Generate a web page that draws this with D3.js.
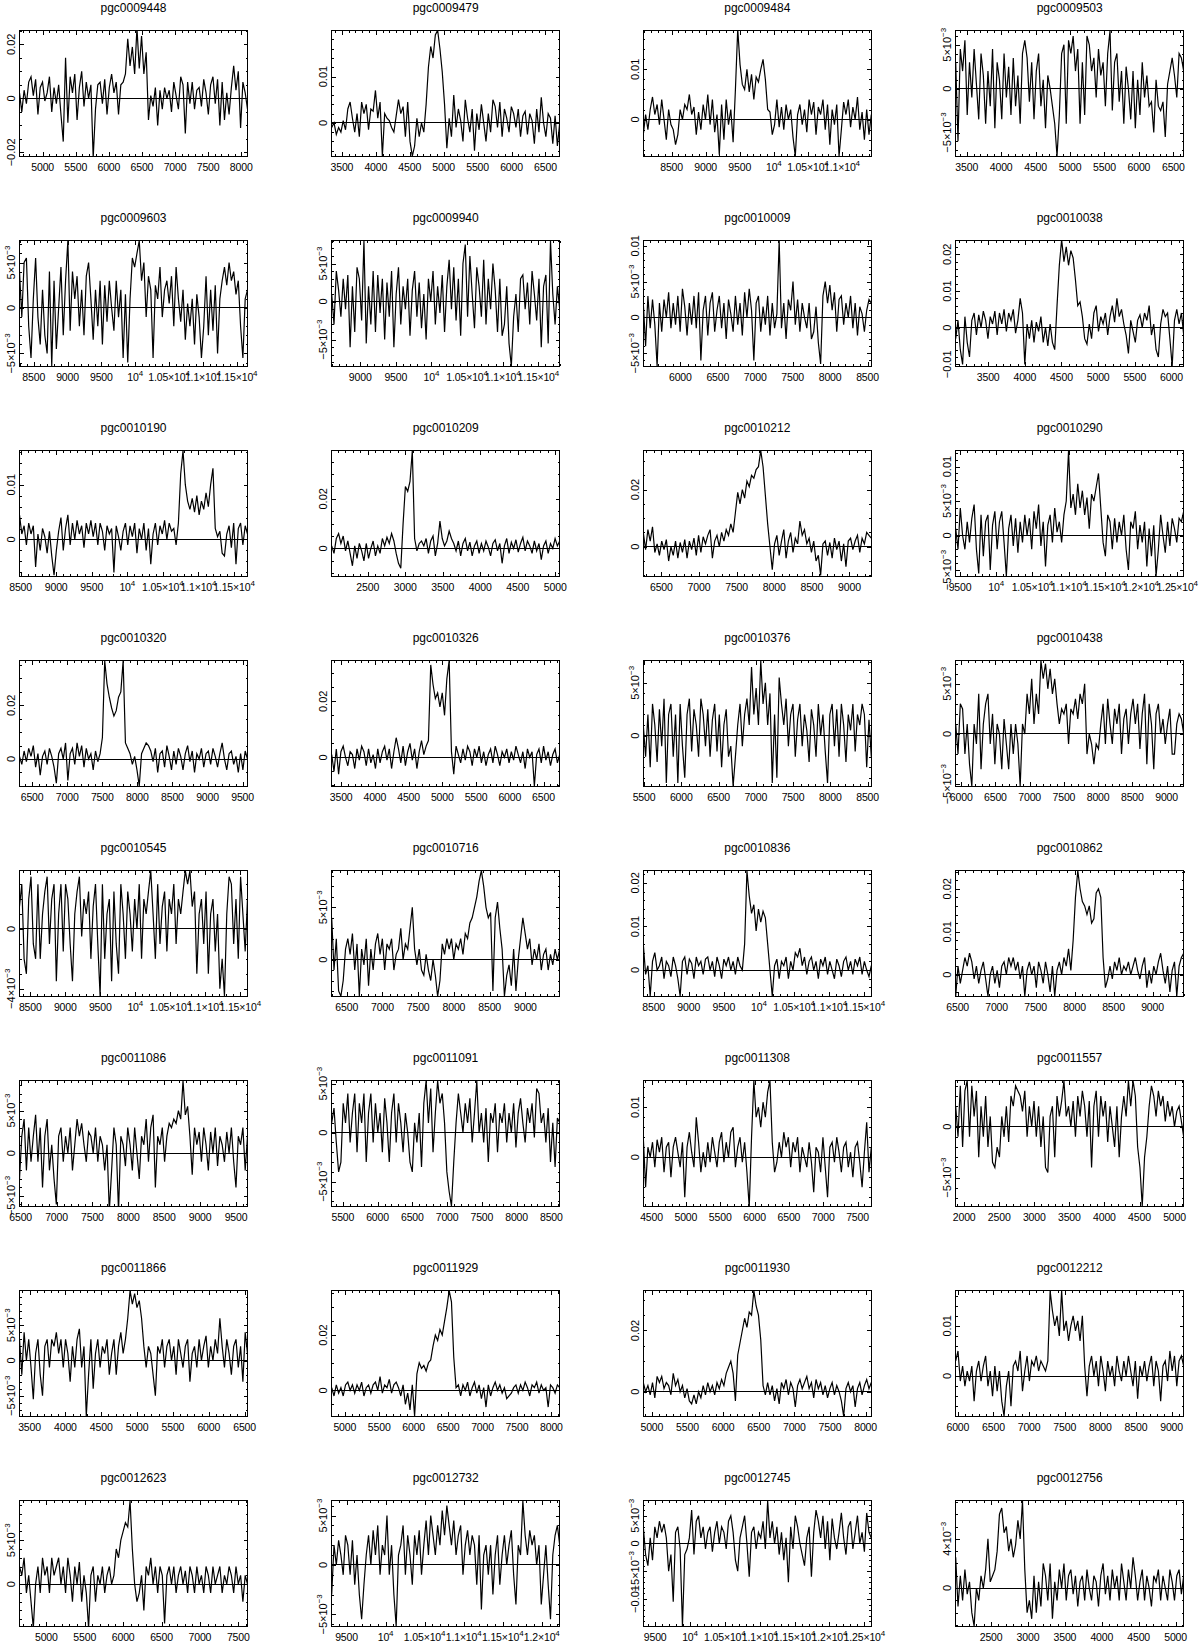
<!DOCTYPE html>
<html>
<head>
<meta charset="utf-8">
<script src="https://cdn.jsdelivr.net/npm/d3@7"></script>
<style>
  body { margin: 0; background: #fff; }
  text { font-family: "Liberation Sans", Arial, sans-serif; fill: #000; }
</style>
</head>
<body>
<svg id="chart"></svg>
<script>
// galaxy names, one panel each (4 columns x 8 rows)
const names = [
  "pgc0009448", "pgc0009479", "pgc0009484", "pgc0009503",
  "pgc0009603", "pgc0009940", "pgc0010009", "pgc0010038",
  "pgc0010190", "pgc0010209", "pgc0010212", "pgc0010290",
  "pgc0010320", "pgc0010326", "pgc0010376", "pgc0010438",
  "pgc0010545", "pgc0010716", "pgc0010836", "pgc0010862",
  "pgc0011086", "pgc0011091", "pgc0011308", "pgc0011557",
  "pgc0011866", "pgc0011929", "pgc0011930", "pgc0012212",
  "pgc0012623", "pgc0012732", "pgc0012745", "pgc0012756"
];

// velocity range covered by each spectrum (km/s)
const velRanges = [
  [4650, 8095], [3350, 6710], [8085, 11430], [3340, 6650],
  [8290, 11660], [8600, 11800], [5505, 8550], [3057, 6167],
  [8485, 11690], [2020, 5060], [6260, 9290], [9440, 12590],
  [6320, 9570], [3360, 6740], [5490, 8550], [5920, 9250],
  [8346, 11604], [6290, 9480], [8353, 11600], [6475, 9400],
  [6484, 9660], [5340, 8620], [4380, 7700], [1880, 5130],
  [3360, 6540], [4810, 8120], [4880, 8080], [5970, 9170],
  [4650, 7620], [9310, 12230], [9330, 12600], [2020, 5110]
];

// flux axis range of each panel (Jy)
const fluxRanges = [
  [-0.0214, 0.025], [-0.0072, 0.0199], [-0.0073, 0.0177], [-0.0077, 0.0066],
  [-0.0064, 0.0074], [-0.0085, 0.008], [-0.0068, 0.0107], [-0.0105, 0.0237],
  [-0.0067, 0.0162], [-0.0112, 0.0394], [-0.0103, 0.0336], [-0.0059, 0.0123],
  [-0.0101, 0.0366], [-0.0103, 0.0345], [-0.0048, 0.0071], [-0.0052, 0.0073],
  [-0.0045, 0.0039], [-0.0035, 0.0085], [-0.006, 0.0228], [-0.005, 0.0242],
  [-0.0062, 0.0085], [-0.0075, 0.0053], [-0.0098, 0.0153], [-0.0078, 0.0045],
  [-0.0079, 0.0099], [-0.0093, 0.036], [-0.008, 0.033], [-0.008, 0.017],
  [-0.0048, 0.0095], [-0.0062, 0.0065], [-0.0149, 0.0077], [-0.0031, 0.0071]
];

// labelled flux tick interval of each panel
const fluxSteps = [
  0.02, 0.01, 0.01, 0.005,
  0.005, 0.005, 0.005, 0.01,
  0.01, 0.02, 0.02, 0.005,
  0.02, 0.02, 0.005, 0.005,
  0.004, 0.005, 0.01, 0.01,
  0.005, 0.005, 0.01, 0.005,
  0.005, 0.02, 0.02, 0.01,
  0.005, 0.005, 0.005, 0.004
];

const velStep = 500;

// flux density per channel, in units of 1e-4 Jy
const spectra = [
  [20,-50,30,-20,60,80,10,70,-60,40,60,-10,20,80,-50,40,-20,50,-60,-160,150,-90,80,20,90,-80,40,100,-30,60,0,50,-220,-40,50,60,-20,70,-60,40,90,20,60,-60,50,60,90,220,120,190,90,260,110,230,90,170,-80,10,-30,40,-100,30,-40,40,0,30,-50,60,10,-40,80,50,-130,60,-20,60,-40,30,40,-30,70,20,-60,50,80,-20,70,-100,60,-80,20,-60,40,120,30,100,-110,60,20,-40],
  [-10,0,-25,-10,-20,5,-15,30,45,10,-20,20,-30,45,20,40,-15,30,25,70,10,45,-72,20,10,5,-10,-20,15,50,20,35,-30,45,-40,-72,-50,10,-30,0,-20,40,120,165,140,190,200,160,110,40,-55,10,-30,60,-10,30,5,-40,50,10,-20,30,-60,20,-15,40,0,-40,20,-20,50,35,-10,45,-30,30,10,-20,35,20,-10,30,-30,15,25,-25,20,5,-45,30,-20,55,0,-30,20,10,-45,15,-50,0],
  [-30,10,-20,20,45,10,30,-10,40,0,-40,20,-10,-20,-50,-30,20,0,30,20,50,10,25,-30,15,-20,30,0,50,-10,40,-25,10,-70,30,-40,40,-10,20,-45,60,180,110,70,60,100,55,90,40,85,75,100,120,80,20,15,-30,-10,40,-15,25,-20,30,0,20,-35,-73,10,30,-10,20,-25,40,10,35,-30,25,10,40,-20,30,-50,20,-10,30,-73,-20,35,10,40,-15,25,0,45,-20,15,-40,20,-30,10],
  [30,-60,45,20,55,-30,30,-10,45,5,-35,40,15,-40,20,-20,45,-45,30,10,-35,40,-10,25,-30,35,-20,15,-40,40,55,35,-15,30,-35,20,40,-20,10,-45,15,0,-20,-40,-77,-30,40,50,-40,55,40,60,20,45,-40,30,-30,60,50,20,35,-10,45,15,30,-20,40,66,-25,30,40,-15,20,-40,25,0,-35,20,-45,10,-30,30,-10,15,-20,-15,-50,10,-20,-25,-15,-55,5,20,35,15,-10,40,35,20],
  [40,-10,50,55,-20,-55,10,55,-10,-40,20,-30,-50,40,-64,30,-45,0,45,-30,30,74,-25,40,10,35,-20,20,-30,35,50,10,-35,20,-20,30,-40,25,-15,30,0,-25,30,-10,20,-55,15,-60,10,55,45,60,74,30,50,-10,35,20,-55,25,10,45,-10,20,30,5,35,-20,45,10,-15,20,-35,5,-20,10,-40,15,-10,-55,-20,35,-30,20,-25,25,-50,10,30,45,25,50,30,40,15,30,-20,-55,10,20],
  [10,-30,40,15,-20,30,-10,35,-60,20,-40,45,30,-25,80,-55,20,-30,40,-40,35,-15,30,-50,25,-20,40,-60,10,45,-30,20,-10,30,-45,15,40,-20,25,-35,10,-50,30,0,40,-30,20,-15,35,-40,20,55,-10,45,-25,30,-45,50,75,-20,60,10,-35,45,20,-20,55,-30,30,-10,50,15,-40,30,-45,-30,20,-55,-85,-20,10,-40,30,35,-10,25,-30,40,10,-25,30,-60,20,35,-55,80,10,-30,20,-10],
  [20,-40,30,-15,25,-10,-68,20,-20,25,0,35,-15,20,-10,30,-20,40,15,-25,20,-10,30,-15,35,-60,10,30,-25,20,35,-20,10,30,-15,20,-30,25,5,-20,30,-10,20,-25,35,0,40,10,-60,20,30,-20,15,-10,30,-25,20,-15,5,107,-15,20,-30,25,10,50,-10,25,-20,20,0,-15,20,-30,-20,15,-35,-65,30,50,20,45,10,35,-20,25,30,-10,20,0,30,-15,20,-25,15,5,-20,10,25,20],
  [-30,20,-60,-100,30,-40,-80,20,40,-20,35,0,45,20,-30,30,10,45,-20,40,10,50,-10,40,20,50,-15,20,80,40,-100,10,-30,20,-40,15,-10,30,-40,0,-50,10,-40,-60,60,170,240,180,220,170,210,190,130,60,70,30,-30,-45,10,-30,40,60,-10,30,10,40,-20,30,60,15,80,30,50,10,-20,-70,20,-10,-40,20,35,0,40,20,60,-20,10,-60,-80,10,50,30,40,-30,-105,20,50,10,40,-20],
  [45,10,25,-10,30,10,25,-50,10,-20,20,5,-25,15,-30,-65,-20,15,40,-20,20,45,-10,30,0,35,10,25,-15,30,10,35,5,30,-10,30,15,-20,25,10,20,-60,25,5,-20,15,30,-10,25,5,30,-25,20,0,30,-20,20,-45,10,30,-10,25,10,35,0,30,15,20,-10,30,120,162,100,70,55,75,50,80,45,70,55,85,60,100,130,20,5,15,-25,-30,10,25,-15,30,-45,20,30,-10,25,10],
  [10,-20,40,60,20,50,-10,30,-20,-70,10,-40,20,-10,-50,20,-40,0,30,-30,10,-20,40,10,45,20,60,30,-20,-60,-80,100,250,230,270,394,40,-10,20,30,10,40,-20,30,50,-30,20,110,40,10,30,70,40,20,-10,30,-30,20,40,-10,25,-30,10,30,-20,20,-10,30,5,-30,20,35,-10,20,-60,10,40,-20,25,0,35,-15,20,45,-10,30,10,-20,30,-10,20,-45,10,30,-20,20,0,40,10,30],
  [50,-10,60,20,70,-20,10,-30,20,-10,25,-50,0,-30,20,-40,15,-20,25,-40,20,-10,30,-30,40,-20,35,10,40,60,-40,20,40,0,50,20,60,40,80,50,120,190,150,200,170,230,210,250,240,270,280,336,280,180,80,0,-80,10,40,-30,20,60,-40,20,50,-20,30,10,90,40,60,10,30,-20,20,-50,-30,-100,10,20,-30,15,-40,30,-10,20,-50,10,-70,20,30,-10,20,40,-20,30,10,50,40,30],
  [10,-20,40,0,-20,20,-10,25,45,-20,-55,30,-30,20,30,-50,15,35,-20,20,35,-10,-59,10,30,-15,25,-25,20,-10,30,0,25,-20,35,10,45,-15,20,-45,15,30,-10,40,5,20,-10,30,50,123,40,60,30,75,40,65,30,55,10,60,50,70,90,40,-10,-30,30,20,-20,25,-10,20,0,30,-20,-50,20,10,35,-20,15,-10,20,-45,10,-30,15,-59,-20,30,0,-25,20,-15,25,10,-10,25,20,35],
  [10,-20,30,-10,40,10,50,-30,20,-60,10,30,-20,40,10,-30,-90,20,40,0,60,-80,20,40,-20,60,10,50,-30,40,0,20,-40,30,-10,20,80,366,280,230,190,160,180,230,250,366,60,40,20,-20,10,-40,-100,20,40,60,50,30,-10,40,-50,20,30,-30,50,10,-40,30,-20,40,10,-40,20,50,-10,30,-50,20,0,40,-30,20,30,-20,40,10,-30,20,60,0,-40,20,30,-20,10,-50,20,-40,30,0],
  [10,-50,30,-60,20,40,0,-30,20,10,-40,30,-10,40,20,-30,30,-20,10,-40,30,-20,20,40,-10,30,-40,20,70,30,-20,40,-30,20,50,-10,30,-40,20,60,10,40,60,330,260,210,230,180,230,150,280,345,20,-60,40,10,-20,30,-10,40,20,-30,30,0,40,-20,20,-30,10,30,-20,40,10,-30,20,0,30,-20,20,-10,40,10,-20,20,-40,30,0,20,-103,10,30,-20,40,-10,20,-30,10,30,-20,10],
  [10,-20,20,-30,30,10,-25,25,-10,35,-45,20,30,-20,20,-45,30,-10,-40,20,35,-15,25,10,-20,35,20,-10,25,-20,15,30,-15,20,-30,10,25,-20,-10,-48,-20,10,30,-10,20,35,10,65,20,45,10,71,30,50,10,40,-45,20,-40,55,30,10,35,-10,20,30,-20,15,30,-10,20,5,-25,25,10,-20,30,0,20,-15,-45,20,30,-10,25,-20,30,10,-25,20,5,30,-15,20,10,30,20,-30,15,-20],
  [10,-20,30,25,-20,10,-30,-52,10,-10,40,-35,10,30,40,-10,20,-30,10,0,-35,15,-10,-35,10,-20,10,-10,-52,10,0,40,20,55,10,40,20,73,55,70,45,65,40,55,30,10,25,20,30,-10,25,20,35,15,40,30,50,-20,0,-10,-30,-10,-15,10,30,-10,35,10,-10,25,10,30,-20,15,25,-10,20,35,10,30,-15,20,40,-30,30,10,-35,20,30,0,15,-10,10,25,-20,-20,10,20,15,0],
  [15,30,-20,-30,20,35,-10,-20,30,-20,10,25,35,-10,20,30,-35,10,30,-15,30,20,-10,-35,10,25,35,-5,20,10,25,-20,15,30,-10,-45,30,-20,10,20,-35,25,-10,-30,30,10,-20,25,10,-15,20,0,30,-20,20,10,25,39,10,-20,30,-10,15,25,-15,20,10,30,-10,20,10,25,39,30,39,15,25,-30,10,20,-10,25,-30,10,20,-15,10,-40,-20,-45,10,35,30,-10,20,-20,35,10,-15,20],
  [40,-10,20,-30,-35,-20,10,20,5,25,-10,15,-35,10,-5,20,-25,10,-10,15,25,5,20,-10,15,10,20,-10,5,10,30,0,15,10,30,50,10,-5,10,-10,-15,5,-10,-20,0,-15,-35,-20,15,5,20,10,20,0,15,10,20,5,25,20,35,40,50,60,75,85,70,50,40,45,-30,40,55,30,10,-35,-15,-5,-25,10,-30,0,20,40,25,10,20,-5,10,0,15,-10,5,10,-10,5,-5,10,0,10],
  [60,-10,10,-60,20,40,0,10,30,-20,20,10,-15,30,10,-20,-60,20,30,-10,25,15,-20,30,10,20,-10,25,30,0,20,-15,30,10,-20,25,10,30,0,20,-10,30,10,0,60,228,170,130,150,90,140,110,135,120,60,0,-60,10,25,-20,20,10,30,-20,20,0,40,30,50,10,30,-10,20,30,0,20,-20,25,10,30,-10,20,0,-20,25,10,-15,20,30,0,20,-10,25,10,30,-10,20,0,-15,10],
  [-50,20,-20,10,40,20,50,30,-10,20,-20,10,30,-10,-50,0,20,-20,10,-30,20,30,0,40,20,40,10,30,-10,20,-50,10,30,0,20,-30,30,10,-20,30,0,-40,20,-50,10,30,0,40,20,60,10,80,180,242,200,170,160,140,160,120,130,190,200,180,40,-30,-10,20,-10,30,10,40,0,20,10,30,0,20,40,10,-10,20,40,-30,10,-20,20,0,30,50,10,-20,20,-40,10,30,-50,20,40,50],
  [-30,20,40,-20,30,-10,20,45,-10,30,-40,20,40,-20,10,-30,-60,20,30,-10,20,0,30,-20,10,40,20,35,10,-10,25,20,0,30,-10,20,10,-20,10,-68,-20,30,10,-68,20,10,-15,30,10,-20,30,0,-30,20,10,40,-10,30,45,-40,20,10,30,-10,20,35,30,40,35,50,40,85,45,55,20,-25,30,10,25,-10,30,10,-20,25,0,30,-15,20,10,-10,25,0,30,-10,-40,20,10,30,-20,20],
  [10,25,-10,-40,-30,30,10,40,-10,20,40,-20,30,10,40,-30,20,40,-10,30,0,20,-20,35,10,-30,20,40,-10,30,10,-20,20,0,-30,-40,10,-10,20,-35,30,53,10,45,-20,20,53,30,40,10,-40,-60,-75,-30,10,40,20,0,30,10,35,-10,20,53,0,20,-10,25,-30,20,10,30,-20,20,10,30,-10,20,0,30,-15,20,35,10,-10,25,10,30,-5,45,40,10,20,-10,25,-30,10,-35,15,10],
  [40,-60,20,0,30,-20,35,10,40,-30,20,30,-40,20,40,10,-20,30,-80,20,50,10,-20,80,30,-30,10,-20,30,-10,40,10,-20,30,50,-10,30,0,50,60,-20,20,40,-10,30,-30,-100,40,153,80,100,60,110,80,130,153,30,-30,-10,30,0,50,20,40,-20,30,10,40,-30,20,0,-20,30,-10,-70,20,10,-30,40,-20,-80,20,30,-10,40,10,-30,20,30,-20,10,-40,20,30,-10,-60,10,70,-30,20],
  [20,-10,40,-20,35,45,-10,40,10,35,-30,20,-10,30,-20,10,-35,-40,-20,-30,10,-10,20,-15,30,20,40,35,30,15,35,-10,20,0,25,-10,20,-20,10,-40,-45,10,20,-30,30,10,25,45,10,20,0,25,-10,30,10,35,20,-10,25,-40,20,35,-10,30,10,25,-15,20,0,-20,20,-30,10,30,10,45,20,45,30,-20,-40,-78,-30,-10,20,40,30,10,35,20,30,5,25,10,20,0,15,20,5,-10],
  [30,-20,40,0,30,-10,-55,10,30,-20,-50,20,30,-10,30,20,40,10,30,-10,30,10,-30,20,-10,30,45,-10,20,-79,-20,30,-40,10,30,-10,20,10,30,-20,10,30,-20,20,40,10,30,60,99,80,95,75,85,60,20,-10,20,10,-20,-50,20,10,30,-10,20,30,0,20,-20,30,10,-10,20,30,-30,10,20,-10,30,0,20,35,-10,20,0,30,10,60,20,-10,30,10,-20,20,30,-10,20,-30,40,10],
  [10,-20,20,-10,10,-20,20,30,0,20,-10,20,0,30,-20,10,20,-10,20,30,0,50,-10,20,10,40,-10,20,30,10,-20,20,-50,-10,-70,20,-93,60,100,80,90,70,100,110,160,200,180,220,200,250,300,360,320,120,10,20,-20,20,0,30,-20,10,30,-10,20,-30,10,-60,20,-20,10,30,0,20,-10,10,-30,-20,-10,10,20,-10,20,0,30,10,-20,20,10,30,-10,20,0,10,-60,20,10,-10,20,10],
  [30,0,20,-10,30,-20,50,30,50,10,30,20,-10,60,20,40,0,20,-20,10,-30,-40,-10,-40,0,-20,20,-10,30,0,20,-10,30,10,40,20,60,80,100,60,-30,120,160,200,240,210,260,250,330,280,250,170,20,-10,30,-10,20,-30,10,-40,30,10,40,-10,30,10,-50,20,40,10,30,50,10,30,-20,40,10,30,-10,20,-20,10,30,-10,20,0,-30,-80,10,30,0,20,-50,10,30,-10,20,40,10,30],
  [30,50,-10,20,-20,10,-10,20,-50,10,30,-10,20,40,-20,10,-40,20,-30,10,-50,-80,-20,10,-60,20,30,10,50,-30,10,40,-10,30,20,40,10,30,20,10,30,170,130,100,120,80,170,90,110,70,100,120,90,110,70,120,20,-40,20,40,0,30,-20,40,10,-30,30,0,20,-20,40,10,-10,30,0,40,10,-20,30,-45,20,0,30,-10,20,40,-20,30,10,-50,20,30,-10,50,10,40,-20,30,40,20],
  [20,10,30,-10,10,-20,-50,0,20,-10,30,10,20,-10,30,10,20,30,0,20,-10,30,10,-20,20,0,25,-20,10,-10,-50,10,20,-20,10,0,20,-10,10,20,0,10,40,30,50,60,70,65,95,40,0,-20,-10,10,-30,20,10,30,0,20,-10,20,10,-45,10,20,0,20,-10,10,20,0,15,-10,20,10,-10,20,0,10,-10,20,10,-10,20,0,10,20,-10,10,0,20,10,-10,20,0,10,-20,10,0],
  [-30,20,0,25,10,-10,30,20,-10,25,-20,10,-30,-55,-20,10,30,0,35,10,40,-10,20,10,50,-10,20,-30,-62,10,20,40,-10,30,10,-20,30,10,35,-10,20,45,10,50,30,10,40,20,55,30,60,40,20,45,10,30,40,-10,20,35,10,30,20,-20,30,-45,10,20,-10,20,-30,10,30,-20,10,30,0,20,35,-10,-40,20,10,65,30,10,35,20,30,0,20,-40,-10,20,-20,-55,10,30,40,20],
  [30,-20,-40,10,-30,30,10,40,20,35,10,-50,-20,-105,20,30,-10,-149,-20,-10,10,60,-20,40,50,10,30,-10,20,30,-15,20,40,0,30,20,-10,40,50,20,-30,-50,10,30,50,0,-60,20,30,-10,20,10,40,-10,77,10,40,0,30,-20,20,-30,10,-70,30,-10,50,30,0,-20,-40,10,30,-60,20,60,40,10,50,-10,40,-30,45,10,-10,20,55,10,-20,30,40,-10,20,50,0,20,-15,55,20,10],
  [25,-15,10,-10,15,-5,5,-20,-31,0,-10,10,0,15,40,5,10,15,30,60,65,45,50,30,40,25,35,55,40,71,15,-20,-10,-25,10,-20,5,-15,20,10,-10,20,-25,5,-10,15,0,20,-10,10,15,-5,10,-15,5,10,-10,15,0,-10,10,5,-15,10,20,-5,10,-10,15,0,10,-10,20,5,-10,15,0,25,10,-10,5,15,-10,10,0,-15,10,5,15,-10,10,0,-10,15,5,-10,10,15,-5,10]
];

const svgWidth = 1200;
const svgHeight = 1647;
const colLeft = [19.5, 331.7, 643.3, 955.7];
const rowTop = 30.7, rowGap = 210;
const width = 228, height = 125.5;

const svg = d3.select("#chart").attr("width", svgWidth).attr("height", svgHeight);
const defs = svg.append("defs");

// PGPLOT-like number labels: 5×10^-3, 1.05×10^4, 0.02 ...
const fmt = (v) => {
  const minus = "\u2212";
  if (v === 0) return { base: "0" };
  const a = Math.abs(v);
  if (a >= 9999) {
    const m = +(v / 1e4).toPrecision(4);
    return { base: m === 1 ? "10" : `${m}\u00d710`, exp: "4" };
  }
  if (a < 0.0099) {
    const m = Math.round(v * 1000);
    return { base: (m < 0 ? minus : "") + Math.abs(m) + "\u00d710", exp: minus + "3" };
  }
  return { base: (v < 0 ? minus : "") + String(+a.toPrecision(4)) };
};

const writeLabel = (textSel, v) => {
  const f = fmt(v);
  textSel.append("tspan").text(f.base);
  if (f.exp) textSel.append("tspan").attr("dy", -5).attr("font-size", "8px").text(f.exp);
};

const ticksFor = (lo, hi, step) => {
  const out = [];
  for (let k = Math.ceil(lo / step - 1e-9); k * step <= hi + 1e-12; k++) out.push(+(k * step).toPrecision(8));
  return out;
};

const subdivisions = (step) => {
  const mant = Math.round(step / Math.pow(10, Math.floor(Math.log10(step) + 1e-9)));
  return mant === 2 || mant === 4 ? 4 : 5;
};

names.forEach((name, i) => {
  const [v0, v1] = velRanges[i];
  const [f0, f1] = fluxRanges[i];
  const g = svg.append("g")
    .attr("transform", `translate(${colLeft[i % 4]},${rowTop + rowGap * Math.floor(i / 4)})`);

  const xScale = d3.scaleLinear().domain([v0, v1]).range([0, width]);
  const yScale = d3.scaleLinear().domain([f0, f1]).range([height, 0]);

  // tick positions
  const xMajor = ticksFor(v0, v1, velStep);
  const xMinor = ticksFor(v0, v1, velStep / 5).filter((v) => Math.abs(v / velStep - Math.round(v / velStep)) > 1e-6);
  const ys = fluxSteps[i];
  const yMajor = ticksFor(f0, f1, ys);
  const nsub = subdivisions(ys);
  const yMinor = ticksFor(f0, f1, ys / nsub).filter((v) => Math.abs(v / ys - Math.round(v / ys)) > 1e-6);

  // inward ticks on all four sides
  const sides = [
    [d3.axisBottom(xScale), `translate(0,${height})`, xMajor, xMinor],
    [d3.axisTop(xScale), "translate(0,0)", xMajor, xMinor],
    [d3.axisLeft(yScale), "translate(0,0)", yMajor, yMinor],
    [d3.axisRight(yScale), `translate(${width},0)`, yMajor, yMinor]
  ];
  sides.forEach(([axis, tr, major, minor]) => {
    [[major, -4], [minor, -2]].forEach(([vals, len]) => {
      const a = g.append("g")
        .attr("transform", tr)
        .attr("shape-rendering", "crispEdges")
        .call(axis.tickValues(vals).tickSize(len).tickSizeOuter(0).tickFormat(""));
      a.select(".domain").remove();
      a.selectAll(".tick text").remove();
    });
  });

  // frame
  g.append("rect")
    .attr("width", width)
    .attr("height", height)
    .attr("fill", "none")
    .attr("stroke", "#000")
    .attr("stroke-width", 1)
    .attr("shape-rendering", "crispEdges");

  // zero line
  g.append("line")
    .attr("x1", 0).attr("x2", width)
    .attr("y1", yScale(0)).attr("y2", yScale(0))
    .attr("stroke", "#000")
    .attr("stroke-width", 1)
    .attr("shape-rendering", "crispEdges");

  // spectrum, clipped to the frame
  defs.append("clipPath").attr("id", `clip${i}`)
    .append("rect").attr("width", width).attr("height", height);

  const data = spectra[i];
  const dv = (v1 - v0) / (data.length - 1);
  const line = d3.line()
    .x((d, j) => xScale(v0 + j * dv))
    .y((d) => yScale(d * 1e-4));

  g.append("path")
    .datum(data)
    .attr("clip-path", `url(#clip${i})`)
    .attr("fill", "none")
    .attr("stroke", "#000")
    .attr("stroke-width", 1.2)
    .attr("d", line);

  // x tick labels
  xMajor.forEach((v) => {
    const t = g.append("text")
      .attr("x", xScale(v))
      .attr("y", height + 14.5)
      .attr("text-anchor", "middle")
      .attr("font-size", "10.5px")
      .attr("letter-spacing", "-0.15px");
    writeLabel(t, v);
  });

  // y tick labels, written vertically
  yMajor.forEach((v) => {
    const t = g.append("text")
      .attr("transform", `translate(-4.5,${yScale(v)}) rotate(-90)`)
      .attr("text-anchor", "middle")
      .attr("font-size", "11px");
    writeLabel(t, v);
  });

  // title
  g.append("text")
    .attr("x", width / 2)
    .attr("y", -19)
    .attr("text-anchor", "middle")
    .attr("font-size", "12px")
    .text(name);
});
</script>
</body>
</html>
